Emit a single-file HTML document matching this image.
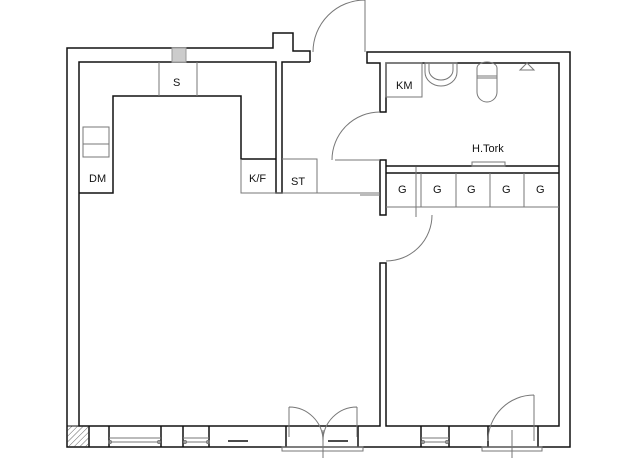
<!DOCTYPE html>
<html><head><meta charset="utf-8"><style>
html,body{margin:0;padding:0;background:#fff;}
svg{display:block;}
text{font-family:"Liberation Sans",sans-serif;font-size:11px;fill:#111;}
</style></head><body>
<svg width="637" height="458" viewBox="0 0 637 458" xmlns="http://www.w3.org/2000/svg">
<defs><pattern id="h" width="4" height="4" patternUnits="userSpaceOnUse" patternTransform="rotate(45)"><line x1="0" y1="0" x2="0" y2="4" stroke="#666" stroke-width="1"/></pattern></defs>
<g fill="none" stroke="#111" stroke-width="1.5">
<!-- outer -->
<path d="M310,62 L310,51 L293,51 L293,33 L273,33 L273,48 L67,48 L67,447 L570,447 L570,52 L367,52 L367,63 L380,63 L380,112 L386,112 L386,63 L559,63 L559,426 L386,426 L386,263 L380,263 L380,426 L79,426 L79,62 L276,62 L276,193 L282,193 L282,62 L310,62"/>
<!-- corridor wall segment -->
<path d="M380,160 L386,160 L386,215 L380,215 Z"/>
<!-- bathroom bottom -->
<path d="M386,166 L559,166 M386,173 L559,173"/>
<!-- kitchen counter -->
<path d="M79,193 L113,193 L113,96 L241,96 L241,159 L276,159"/>
<!-- bottom blocks -->
<path d="M89,426 L89,447 M109,426 L109,447 M161,426 L161,447 M183,426 L183,447 M209,426 L209,447 M286,426 L286,447 M358,426 L358,447 M421,426 L421,447 M449,426 L449,447 M488,426 L488,447 M538,426 L538,447"/>
</g>
<rect x="67" y="426" width="22" height="21" fill="url(#h)" stroke="#111" stroke-width="1"/>
<g fill="none" stroke="#777" stroke-width="1">
<!-- windows -->
<path d="M109,438 L161,438 M109,442 L161,442 M183,438 L209,438 M183,442 L209,442 M421,438 L449,438 M421,442 L449,442"/>
<circle cx="110" cy="442" r="1.5"/><circle cx="159" cy="442" r="1.5"/><circle cx="185" cy="442" r="1.5"/><circle cx="208" cy="442" r="1.5"/><circle cx="423" cy="442" r="1.5"/><circle cx="447" cy="442" r="1.5"/>
<!-- counter boxes -->
<path d="M159,62 L159,96 M197,62 L197,96"/>
<path d="M241,159 L241,193 L380,193 M282,159 L317,159 L317,193"/>
<rect x="83" y="127" width="26" height="30"/><path d="M83,144 L109,144"/>
<rect x="386" y="63" width="36" height="34"/>
<!-- G cells -->
<path d="M386,207 L559,207 M421,173 L421,207 M456,173 L456,207 M490,173 L490,207 M524,173 L524,207"/>
<!-- doors -->
<path d="M365,0 L365,52 M365,0 A52,52 0 0 0 313,52"/>
<path d="M380,160 L335,160 M380,112 A48,48 0 0 0 332,160"/>
<path d="M416,167 L416,217 M432,215 A46,46 0 0 1 386,261 M360,195 L380,195"/>
<path d="M289,407 L289,437 M289,407 A34,34 0 0 1 323,441 M357,407 L357,437 M357,407 A34,34 0 0 0 323,441 M323,430 L323,458"/>
<rect x="282" y="447" width="81" height="4"/>
<path d="M534,395 L534,441 M534,395 A46,46 0 0 0 488,441 M512,430 L512,458"/>
<rect x="482" y="447" width="60" height="4"/>
<!-- fixtures -->
<path d="M425,63 L457,63 L457,72 A16,14 0 0 1 425,72 Z M429,63 L429,70 A12,10 0 0 0 453,70 L453,63"/>
<path d="M477,68 A10,6 0 0 1 497,68 L497,92 A10,10 0 0 1 477,92 Z M477,76 L497,76 M477,78 L497,78"/>
<path d="M520,70 L527,63 L534,70 Z"/>
<rect x="472" y="162" width="33" height="4"/>
</g>
<rect x="172" y="48" width="14" height="14" fill="#ccc" stroke="#999"/>
<path d="M228,441 L248,441 M328,441 L348,441" stroke="#111" stroke-width="1.5"/>
<text x="173" y="86">S</text>
<text x="89" y="182">DM</text>
<text x="249" y="182">K/F</text>
<text x="291" y="185">ST</text>
<text x="396" y="89">KM</text>
<text x="472" y="152">H.Tork</text>
<text x="398" y="193">G</text><text x="433" y="193">G</text><text x="467" y="193">G</text><text x="502" y="193">G</text><text x="536" y="193">G</text>
</svg>
</body></html>
